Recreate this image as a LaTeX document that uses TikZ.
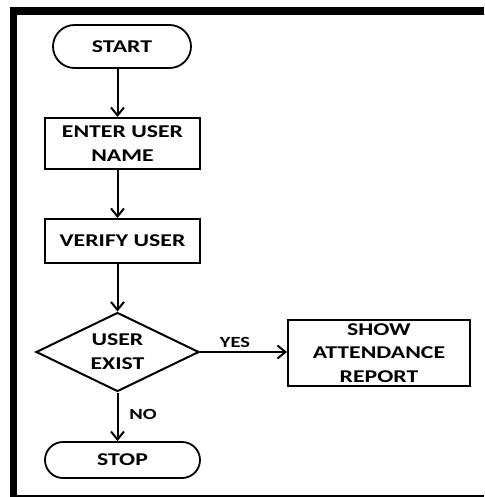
\documentclass[tikz,border=0pt]{standalone}
\usepackage{fontspec}
\setmainfont{Carlito}[FakeStretch=1.32]
\usetikzlibrary{shapes.geometric,shapes.misc,arrows.meta}
\begin{document}
\begin{tikzpicture}[x=1pt,y=-1pt,
  txt/.style={font=\bfseries\fontsize{18}{24}\selectfont,align=center,inner sep=0pt},
  lbl/.style={font=\bfseries\fontsize{15.5}{18}\selectfont,inner sep=0pt},
  stepbox/.style={txt,draw,line width=2pt,minimum width=155pt},
  term/.style={txt,draw,line width=1.8pt,rounded rectangle},
  decision/.style={txt,draw,line width=2pt,diamond,aspect=2.06,minimum width=163pt,minimum height=79pt},
  flow/.style={line width=2pt,-{Straight Barb[length=8pt,width=13pt,line width=2pt]}}]
  \useasboundingbox (0,0) rectangle (484,497);
  % page frame
  \draw[line width=7.4pt] (10,11) -- (484,11);
  \draw[line width=7pt] (13.5,7.3) -- (13.5,497);
  \draw[line width=2pt] (13,495.5) -- (484,495.5);
  % nodes
  \node[term,minimum width=138pt,minimum height=43pt] (start) at (122,46.5) {START};
  \node[stepbox,minimum height=51pt] (enter) at (122.5,143.5) {ENTER USER\\NAME};
  \node[stepbox,minimum height=44pt] (verify) at (122.5,241) {VERIFY USER};
  \node[decision] (exist) at (117.5,352) {USER\\EXIST};
  \node[term,minimum width=155pt,minimum height=36pt] (stop) at (122.5,460) {STOP};
  \node[stepbox,minimum width=182pt,minimum height=66pt,font=\bfseries\fontsize{18}{23.3}\selectfont] (show) at (379,353) {SHOW\\ATTENDANCE\\REPORT};
  % connectors
  \draw[flow] (start.south -| exist.north) -- (enter.north -| exist.north);
  \draw[flow] (enter.south -| exist.north) -- (verify.north -| exist.north);
  \draw[flow] (verify.south -| exist.north) -- (exist.north);
  \draw[flow] (exist.south) -- (stop.north -| exist.south);
  \draw[flow] (exist.east) -- (show.west |- exist.east);
  % branch labels
  \node[lbl] (yes) at (235,342) {YES};
  \node[lbl] (no) at (143,414.5) {NO};
\end{tikzpicture}
\end{document}
